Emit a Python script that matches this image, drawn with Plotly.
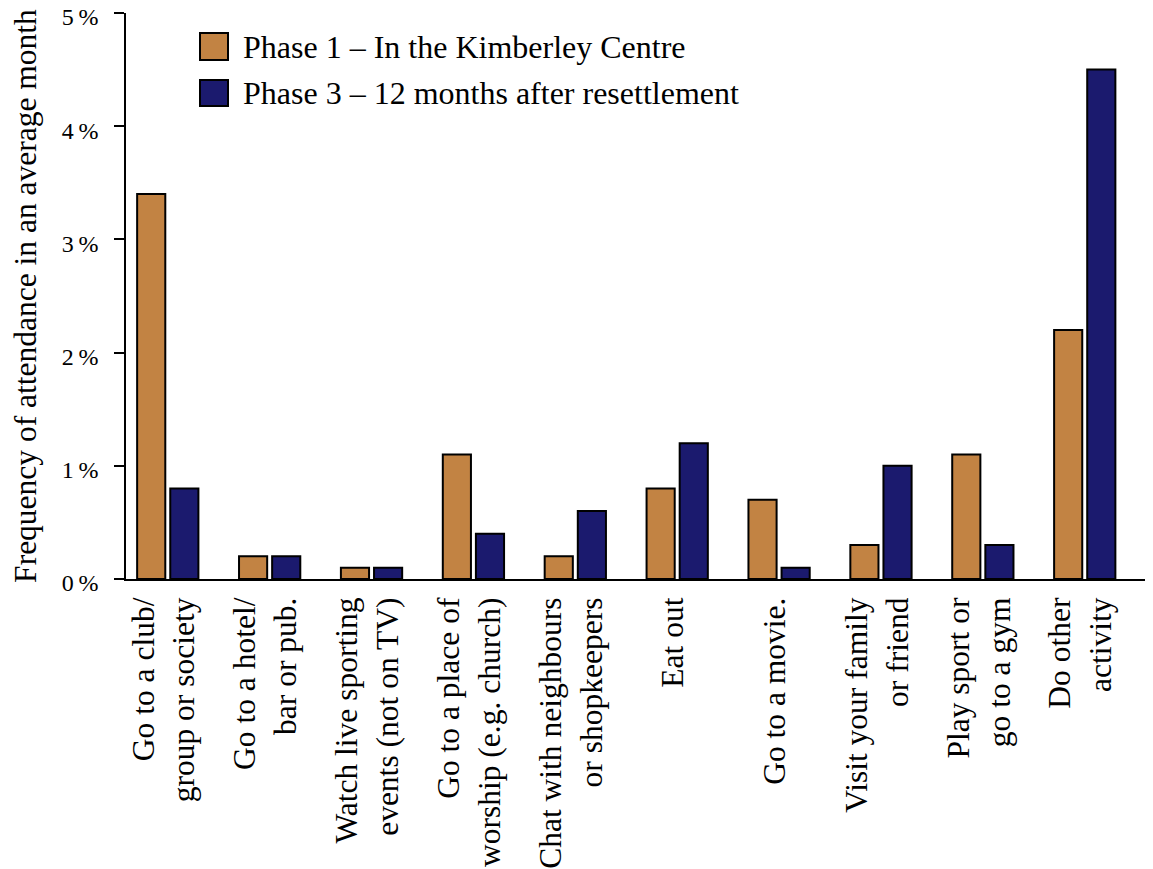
import plotly.graph_objects as go

categories = [
    "Go to a club/<br>group or society",
    "Go to a hotel/<br>bar or pub.",
    "Watch live sporting<br>events (not on TV)",
    "Go to a place of<br>worship (e.g. church)",
    "Chat with neighbours<br>or shopkeepers",
    "Eat out",
    "Go to a movie.",
    "Visit your family<br>or friend",
    "Play sport or<br>go to a gym",
    "Do other<br>activity",
]
phase1 = [3.4, 0.2, 0.1, 1.1, 0.2, 0.8, 0.7, 0.3, 1.1, 2.2]
phase3 = [0.8, 0.2, 0.1, 0.4, 0.6, 1.2, 0.1, 1.0, 0.3, 4.5]
series_names = ["Phase 1 – In the Kimberley Centre", "Phase 3 – 12 months after resettlement"]
colors = ["#C28343", "#1B1A6E"]
y_ticks = [0, 1, 2, 3, 4, 5]

FONT = "Liberation Serif"

# page body has an 8px default margin; compensate so the plot lands in place
OFF = 8
FIG_W, FIG_H = 1153 - OFF, 869 - OFF
L, R, T, B = 126 - OFF, 1153 - OFF, 13 - OFF, 579 - OFF
W, H = R - L, B - T

fig = go.Figure()
for name, vals, col in zip(series_names, [phase1, phase3], colors):
    fig.add_trace(go.Bar(
        x=categories, y=vals, name=name,
        marker=dict(color=col, line=dict(color="black", width=2)),
        showlegend=False,
    ))

# custom legend (large swatches), positions in page pixels
legend_rows = [(33, 60, 47), (80, 106, 93)]
def px(x):
    return (x - OFF - L) / W
def py(y):
    return 1 - (y - OFF - T) / H
for (y0, y1, yc), name, col in zip(legend_rows, series_names, colors):
    fig.add_shape(type="rect", xref="paper", yref="paper",
                  x0=px(200), x1=px(228), y0=py(y1), y1=py(y0),
                  fillcolor=col, line=dict(color="black", width=2))
    fig.add_annotation(xref="paper", yref="paper", x=px(241), y=py(yc),
                       text=name, showarrow=False, xanchor="left", yanchor="middle",
                       font=dict(family=FONT, size=32, color="black"))

fig.update_layout(
    width=FIG_W, height=FIG_H,
    margin=dict(l=L, r=FIG_W - R, t=T, b=FIG_H - B, autoexpand=False),
    plot_bgcolor="white", paper_bgcolor="white",
    barmode="group", bargap=0.35, bargroupgap=0.15,
    font=dict(family=FONT, color="black"),
)
fig.update_xaxes(
    type="category", range=[-0.41, 9.67], automargin=False,
    showline=True, linecolor="black", linewidth=2,
    ticks="", tickangle=-90, showgrid=False, zeroline=False,
    tickfont=dict(family=FONT, size=31.5, color="black"),
    ticklabelstandoff=4, ticklabelshift=-4, ticklabeloverflow="allow",
)
fig.update_yaxes(
    range=[0, 5], tickvals=y_ticks, automargin=False,
    ticktext=[f"{v}\u2009%" for v in y_ticks],
    showline=True, linecolor="black", linewidth=1.5,
    ticks="outside", ticklen=10, tickwidth=1.5, tickcolor="black",
    showgrid=False, zeroline=False,
    tickfont=dict(family=FONT, size=24, color="black"),
    ticklabelstandoff=11, ticklabelshift=4, ticklabeloverflow="allow",
    title=dict(text="Frequency of attendance in an average month",
               font=dict(family=FONT, size=31.5, color="black"), standoff=27),
)

fig.write_html("out.html")
